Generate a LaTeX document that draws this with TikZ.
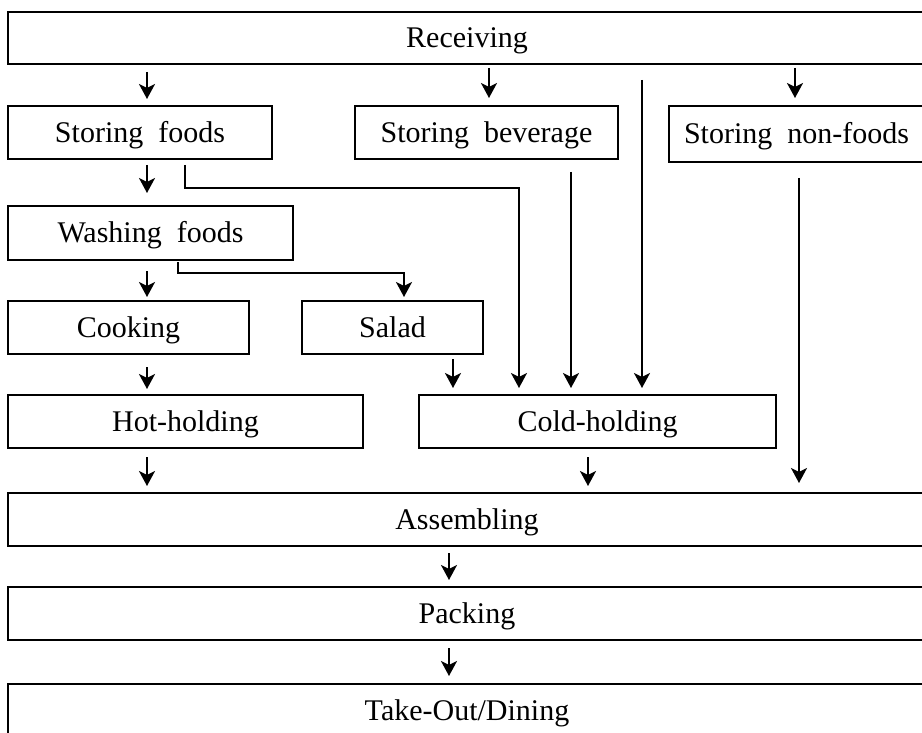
\documentclass[tikz,border=0pt]{standalone}
\usepackage{fontspec}
\setmainfont{Liberation Serif}
\usetikzlibrary{arrows.meta}
\newcommand\stagefont{\fontsize{30}{36}\selectfont\spaceskip=0.5em\relax}
\tikzset{
  stage/.style={draw, line width=2.2pt, inner sep=0pt, outer sep=0pt,
                text height=20pt, text depth=0pt,
                anchor=north west, font=\stagefont},
  flow/.style={line width=2.4pt, line join=miter,
               -{Stealth[length=15pt,width=16pt,inset=4pt]}},
}
\begin{document}
\begin{tikzpicture}[x=1pt,y=-1pt]
  \useasboundingbox (0,0) rectangle (922,733);
  \fill[white] (0,0) rectangle (922,733);
  \clip (0,0) rectangle (922,733);

  % process stages
  \node[stage, minimum width=918pt, minimum height=52pt] (rec)   at (8,12)  {Receiving};
  \node[stage, minimum width=264pt, minimum height=53pt] (sfood) at (8,106) {Storing foods};
  \node[stage, minimum width=263pt, minimum height=53pt] (sbev)  at (355,106) {Storing beverage};
  \node[stage, minimum width=255pt, minimum height=56pt] (snon)  at (669,106) {Storing non-foods};
  \node[stage, minimum width=285pt, minimum height=54pt] (wash)  at (8,206) {Washing foods};
  \node[stage, minimum width=241pt, minimum height=53pt] (cook)  at (8,301) {Cooking};
  \node[stage, minimum width=181pt, minimum height=53pt] (salad) at (302,301) {Salad};
  \node[stage, minimum width=355pt, minimum height=53pt] (hot)   at (8,395) {Hot-holding};
  \node[stage, minimum width=357pt, minimum height=53pt] (cold)  at (419,395) {Cold-holding};
  \node[stage, minimum width=918pt, minimum height=53pt] (asm)   at (8,493) {Assembling};
  \node[stage, minimum width=918pt, minimum height=53pt] (pack)  at (8,587) {Packing};
  \node[stage, minimum width=918pt, minimum height=53pt] (take)  at (8,684) {Take-Out/Dining};

  % receiving to storage
  \draw[flow] ([xshift=139pt,yshift=-8pt]rec.south west) -- ([xshift=139pt,yshift=7pt]sfood.north west);
  \draw[flow] ([xshift=481pt,yshift=-4pt]rec.south west) -- ([xshift=134pt,yshift=8pt]sbev.north west);
  \draw[flow] ([xshift=787pt,yshift=-4pt]rec.south west) -- ([xshift=126pt,yshift=8pt]snon.north west);
  \draw[flow] ([xshift=634pt,yshift=-16pt]rec.south west) -- ([xshift=223pt,yshift=7pt]cold.north west);

  % storage to holding and assembling
  \draw[flow] ([xshift=216pt,yshift=-13pt]sbev.south west) -- ([xshift=152pt,yshift=7pt]cold.north west);
  \draw[flow] ([xshift=130pt,yshift=-16pt]snon.south west) -- ([xshift=791pt,yshift=10pt]asm.north west);
  \draw[flow] ([xshift=177pt,yshift=-6pt]sfood.south west) -- ++(0,23)
              -| ([xshift=100pt,yshift=7pt]cold.north west);
  \draw[flow] ([xshift=139pt,yshift=-6pt]sfood.south west) -- ([xshift=139pt,yshift=13pt]wash.north west);

  % preparation
  \draw[flow] ([xshift=139pt,yshift=-11pt]wash.south west) -- ([xshift=139pt,yshift=4pt]cook.north west);
  \draw[flow] ([xshift=170pt,yshift=-2pt]wash.south west) -- ++(0,11)
              -| ([xshift=102pt,yshift=4pt]salad.north west);
  \draw[flow] ([xshift=139pt,yshift=-13pt]cook.south west) -- ([xshift=139pt,yshift=6pt]hot.north west);
  \draw[flow] ([xshift=151pt,yshift=-5pt]salad.south west) -- ([xshift=34pt,yshift=7pt]cold.north west);

  % holding to service
  \draw[flow] ([xshift=139pt,yshift=-9pt]hot.south west) -- ([xshift=139pt,yshift=7pt]asm.north west);
  \draw[flow] ([xshift=169pt,yshift=-9pt]cold.south west) -- ([xshift=580pt,yshift=7pt]asm.north west);
  \draw[flow] ([xshift=441pt,yshift=-7pt]asm.south west) -- ([xshift=441pt,yshift=7pt]pack.north west);
  \draw[flow] ([xshift=441pt,yshift=-8pt]pack.south west) -- ([xshift=441pt,yshift=8pt]take.north west);
\end{tikzpicture}
\end{document}
